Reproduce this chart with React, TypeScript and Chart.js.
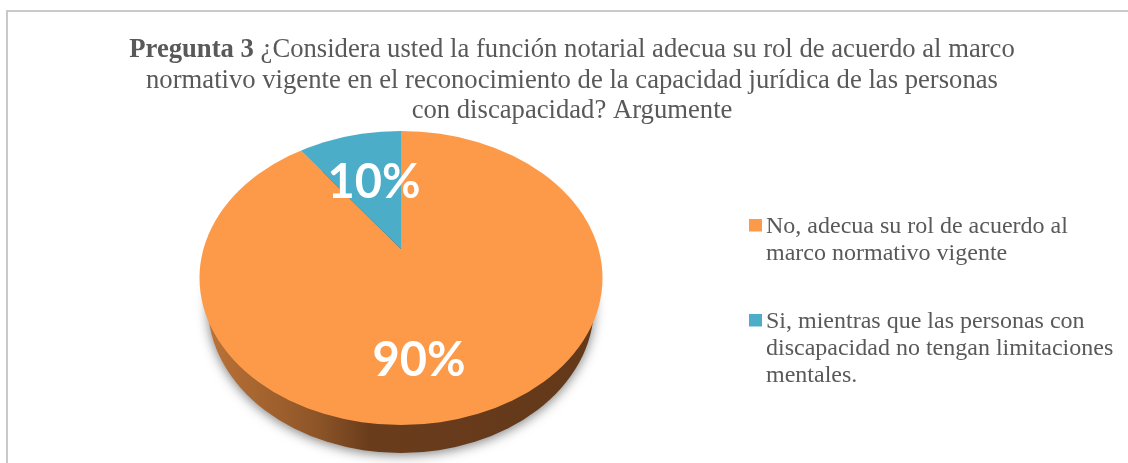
import React, { useEffect, useRef } from "react";
import { Chart, registerables } from "chart.js";

Chart.register(...registerables);

const categories: string[][] = [
  ["No, adecua su rol de acuerdo al", "marco normativo vigente"],
  ["Si, mientras que las personas con", "discapacidad no tengan limitaciones", "mentales."],
];
const values: number[] = [90, 10];
const sliceColors: string[] = ["#FD9A4A", "#4BADC8"];
const titleBold = "Pregunta 3";
const titleLines: string[] = [
  " ¿Considera usted la función notarial adecua su rol de acuerdo al marco",
  "normativo vigente en el reconocimiento de la capacidad jurídica de las personas",
  "con discapacidad? Argumente",
];

const TEXT = "#595959";
const SERIF = "'Liberation Serif', 'Times New Roman', serif";
const TITLE_SIZE = 26.67;
const CX = 401, CY = 278, RX = 201.5, RY = 147;
const BASE_CY = 306, BASE_RX = 193;
const APEX_Y = 249, REACH_X = 252, REACH_Y = 180;
const LABEL_POS = [{ x: 419, y: 361 }, { x: 374, y: 183 }];

function swatch(color: string) {
  const c = document.createElement("canvas");
  c.width = 26; c.height = 17;
  const x = c.getContext("2d")!;
  x.fillStyle = color;
  x.fillRect(9, 0, 13, 13);
  return c;
}

const framePlugin = {
  id: "frame",
  beforeDraw(chart: any) {
    const { ctx, width } = chart;
    ctx.save();
    ctx.fillStyle = "#fff";
    ctx.fillRect(0, 0, width, chart.height);
    ctx.strokeStyle = "#c9c9c9";
    ctx.lineWidth = 2;
    ctx.beginPath();
    ctx.moveTo(7, chart.height);
    ctx.lineTo(7, 11);
    ctx.lineTo(width, 11);
    ctx.stroke();
    ctx.restore();
  },
};

const titlePlugin = {
  id: "mixedTitle",
  afterDraw(chart: any) {
    const { ctx } = chart;
    const ys = [57, 88, 118];
    ctx.save();
    ctx.fillStyle = TEXT;
    ctx.textBaseline = "alphabetic";
    ctx.textAlign = "left";
    const bold = `bold ${TITLE_SIZE}px ${SERIF}`;
    const normal = `${TITLE_SIZE}px ${SERIF}`;
    ctx.font = bold;
    const bw = ctx.measureText(titleBold).width;
    ctx.font = normal;
    const nw = ctx.measureText(titleLines[0]).width;
    const x0 = 572 - (bw + nw) / 2;
    ctx.font = bold;
    ctx.fillText(titleBold, x0, ys[0]);
    ctx.font = normal;
    ctx.fillText(titleLines[0], x0 + bw, ys[0]);
    ctx.textAlign = "center";
    ctx.fillText(titleLines[1], 572, ys[1]);
    ctx.fillText(titleLines[2], 572, ys[2]);
    ctx.restore();
  },
};

const tiltPlugin = {
  id: "tilt",
  beforeDatasetsDraw(chart: any) {
    const { ctx } = chart;
    const arc = chart.getDatasetMeta(0).data[0];
    ctx.save();
    const g = ctx.createLinearGradient(CX - BASE_RX, 0, CX + BASE_RX, 0);
    g.addColorStop(0, "#bb7236");
    g.addColorStop(0.28, "#8e5528");
    g.addColorStop(0.42, "#693c1c");
    g.addColorStop(1, "#633919");
    ctx.save();
    ctx.shadowColor = "rgba(0,0,0,0.5)";
    ctx.shadowBlur = 12;
    ctx.shadowOffsetY = 2;
    ctx.fillStyle = g;
    ctx.beginPath();
    ctx.ellipse(CX, BASE_CY, BASE_RX, RY, 0, 0, Math.PI * 2);
    ctx.fill();
    ctx.restore();
    ctx.beginPath();
    ctx.ellipse(CX, CY, RX, RY, 0, 0, Math.PI * 2);
    ctx.clip();
    ctx.translate(CX, APEX_Y);
    ctx.scale(REACH_X / arc.outerRadius, REACH_Y / arc.outerRadius);
    ctx.translate(-arc.x, -arc.y);
  },
  afterDatasetsDraw(chart: any) {
    const { ctx } = chart;
    ctx.restore();
    ctx.save();
    ctx.fillStyle = "#fff";
    ctx.font = "bold 47px Lato, 'Open Sans', sans-serif";
    ctx.textAlign = "center";
    ctx.textBaseline = "middle";
    values.forEach((v, i) => {
      ctx.fillText(`${v}%`, LABEL_POS[i].x, LABEL_POS[i].y);
    });
    ctx.restore();
  },
};

const legendPlugin = {
  id: "legendPlace",
  afterLayout(chart: any) {
    const l = chart.legend;
    const pad = l.options.labels.padding;
    const w = l.right - l.left;
    l.left = 752 - pad;
    l.right = l.left + w;
    l.top = 215 - pad;
  },
};

export default function App() {
  const ref = useRef<HTMLCanvasElement>(null);
  useEffect(() => {
    document.body.style.margin = "0";
    const chart = new Chart(ref.current!, {
      type: "pie",
      data: {
        labels: categories as any,
        datasets: [
          {
            data: values,
            backgroundColor: sliceColors,
            borderWidth: 0,
            clip: false as any,
          },
        ],
      },
      options: {
        responsive: false,
        animation: false,
        layout: { padding: 0 },
        plugins: {
          title: { display: false },
          tooltip: { enabled: false },
          legend: {
            position: "right",
            align: "start",
            labels: {
              color: TEXT,
              font: { family: SERIF, size: 24, lineHeight: 27 / 24 },
              padding: 41,
              usePointStyle: true,
              pointStyleWidth: 2,
              boxHeight: 13,
              generateLabels: () =>
                categories.map((c, i) => ({
                  text: c as any,
                  fillStyle: sliceColors[i],
                  strokeStyle: sliceColors[i],
                  fontColor: TEXT,
                  lineWidth: 0,
                  pointStyle: swatch(sliceColors[i]) as any,
                  hidden: false,
                  index: i,
                })),
            },
          },
        },
      },
      plugins: [framePlugin, tiltPlugin, titlePlugin, legendPlugin],
    });
    return () => chart.destroy();
  }, []);
  return <canvas ref={ref} width={1128} height={463} style={{ display: "block" }} />;
}
